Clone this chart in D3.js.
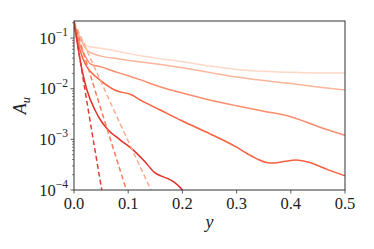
<!DOCTYPE html>
<html>
<head>
<meta charset="utf-8">
<script src="https://cdnjs.cloudflare.com/ajax/libs/d3/7.8.5/d3.min.js"></script>
<style>
  body { margin: 0; background: #fff; }
  text { font-family: "Liberation Serif", "DejaVu Serif", serif; fill: #222; }
</style>
</head>
<body>
<div id="chart"></div>
<script>
// solid curves, [y, A_u], lightest to darkest
var solid1 = [[0,0.21],[0.005,0.14],[0.011,0.1],[0.017,0.083],[0.024,0.07],[0.03,0.067],[0.05,0.063],[0.08,0.055],[0.12,0.045],[0.16,0.039],[0.2,0.034],[0.25,0.028],[0.3,0.024],[0.35,0.022],[0.4,0.021],[0.45,0.0203],[0.5,0.0203]];
var solid2 = [[0,0.21],[0.005,0.14],[0.01,0.108],[0.017,0.075],[0.024,0.058],[0.03,0.052],[0.05,0.044],[0.08,0.039],[0.12,0.034],[0.16,0.03],[0.2,0.026],[0.25,0.021],[0.3,0.017],[0.35,0.0145],[0.4,0.0126],[0.45,0.0108],[0.5,0.0094]];
var solid3 = [[0,0.21],[0.005,0.12],[0.011,0.073],[0.02,0.045],[0.03,0.031],[0.05,0.027],[0.08,0.021],[0.1,0.018],[0.12,0.0153],[0.16,0.0108],[0.2,0.0082],[0.25,0.006],[0.3,0.0046],[0.35,0.0036],[0.4,0.0028],[0.45,0.0018],[0.5,0.0012]];
var solid4 = [[0,0.21],[0.005,0.1],[0.011,0.058],[0.022,0.029],[0.033,0.0204],[0.048,0.0148],[0.076,0.0093],[0.107,0.0075],[0.122,0.006],[0.159,0.0038],[0.2,0.0023],[0.25,0.0013],[0.3,0.0007],[0.32,0.00052],[0.34,0.0004],[0.355,0.00035],[0.37,0.00034],[0.39,0.00037],[0.41,0.00039],[0.43,0.00036],[0.469,0.00025],[0.5,0.00019]];
var solid5 = [[0,0.21],[0.006,0.08],[0.0148,0.0234],[0.024,0.0093],[0.0387,0.0038],[0.05,0.0023],[0.064,0.0015],[0.085,0.00098],[0.109,0.00062],[0.131,0.00036],[0.149,0.00022],[0.16,0.00019],[0.172,0.00017],[0.186,0.00014],[0.2,0.0001],[0.21,0.00007]];
// dashed curves
var dashed1 = [[0,0.21],[0.025,0.0046],[0.052,0.00009]];
var dashed2 = [[0,0.21],[0.048,0.0045],[0.098,0.00009]];
var dashed3 = [[0,0.21],[0.07,0.0046],[0.144,0.00009]];

var series = [
  { pts: solid1, color: "#fdd8c7", dash: null },
  { pts: solid2, color: "#fcb59a", dash: null },
  { pts: solid3, color: "#fc8d6d", dash: null },
  { pts: solid4, color: "#f8603f", dash: null },
  { pts: solid5, color: "#e2302a", dash: null },
  { pts: dashed3, color: "#fcab8f", dash: "5,3" },
  { pts: dashed2, color: "#fa7b5c", dash: "5,3" },
  { pts: dashed1, color: "#e23a35", dash: "5,3" }
];

var xTicks = [0, 0.1, 0.2, 0.3, 0.4, 0.5];
var yTicks = [1e-4, 1e-3, 1e-2, 1e-1];

var width = 374,
    height = 249,
    mLeft = 74,
    mRight = 345,
    mTop = 21,
    mBottom = 190;

var svg = d3.select("#chart")
    .append("svg")
    .attr("width", width)
    .attr("height", height);

var x = d3.scaleLinear().domain([0, 0.5]).range([mLeft, mRight]);
var y = d3.scaleLog().domain([1e-4, 0.217]).range([mBottom, mTop]);

svg.append("clipPath")
    .attr("id", "clip")
    .append("rect")
    .attr("x", mLeft)
    .attr("y", mTop)
    .attr("width", mRight - mLeft)
    .attr("height", mBottom - mTop);

var line = d3.line()
    .x(function(d) { return x(d[0]); })
    .y(function(d) { return y(d[1]); })
    .curve(d3.curveMonotoneX);

svg.append("g")
    .attr("clip-path", "url(#clip)")
    .selectAll("path")
    .data(series).enter()
    .append("path")
    .attr("d", function(d) { return line(d.pts); })
    .attr("fill", "none")
    .attr("stroke", function(d) { return d.color; })
    .attr("stroke-width", 1.5)
    .attr("stroke-dasharray", function(d) { return d.dash; });

// frame
svg.append("rect")
    .attr("x", mLeft)
    .attr("y", mTop)
    .attr("width", mRight - mLeft)
    .attr("height", mBottom - mTop)
    .attr("fill", "none")
    .attr("stroke", "#333")
    .attr("stroke-width", 1);

// x ticks
svg.append("g")
    .selectAll("line")
    .data(xTicks).enter()
    .append("line")
    .attr("x1", function(d) { return x(d); })
    .attr("x2", function(d) { return x(d); })
    .attr("y1", mBottom)
    .attr("y2", mBottom + 3.5)
    .attr("stroke", "#333")
    .attr("stroke-width", 0.8);

svg.append("g")
    .selectAll("text")
    .data(xTicks).enter()
    .append("text")
    .attr("x", function(d) { return x(d); })
    .attr("y", 208.5)
    .attr("text-anchor", "middle")
    .style("font-size", "16.5px")
    .text(function(d) { return d3.format(".1f")(d); });

// y ticks, major and minor
var minor = [];
yTicks.forEach(function(p) {
  for (var k = 2; k <= 9; k++) {
    if (p * k < 0.217) minor.push(p * k);
  }
});

svg.append("g")
    .selectAll("line")
    .data(minor).enter()
    .append("line")
    .attr("x1", mLeft - 2)
    .attr("x2", mLeft)
    .attr("y1", function(d) { return y(d); })
    .attr("y2", function(d) { return y(d); })
    .attr("stroke", "#333")
    .attr("stroke-width", 0.6);

svg.append("g")
    .selectAll("line")
    .data(yTicks).enter()
    .append("line")
    .attr("x1", mLeft - 3.5)
    .attr("x2", mLeft)
    .attr("y1", function(d) { return y(d); })
    .attr("y2", function(d) { return y(d); })
    .attr("stroke", "#333")
    .attr("stroke-width", 0.8);

var yLab = svg.append("g")
    .selectAll("text")
    .data(yTicks).enter()
    .append("text")
    .attr("x", 68)
    .attr("y", function(d) { return y(d) + 5.5; })
    .attr("text-anchor", "end")
    .style("font-size", "16.5px");

yLab.append("tspan").text("10");
yLab.append("tspan")
    .attr("dy", -7.5)
    .style("font-size", "11.5px")
    .text(function(d) { return "\u2212" + Math.round(-Math.log10(d)); });

// axis labels
svg.append("text")
    .attr("x", x(0.25))
    .attr("y", 228)
    .attr("text-anchor", "middle")
    .style("font-size", "18px")
    .style("font-style", "italic")
    .text("y");

var aLab = svg.append("text")
    .attr("transform", "translate(26," + ((mTop + mBottom) / 2) + ") rotate(-90)")
    .attr("text-anchor", "middle")
    .style("font-size", "18px")
    .style("font-style", "italic");
aLab.append("tspan").text("A");
aLab.append("tspan")
    .attr("dy", 3.5)
    .style("font-size", "12.5px")
    .text("u");
</script>
</body>
</html>
